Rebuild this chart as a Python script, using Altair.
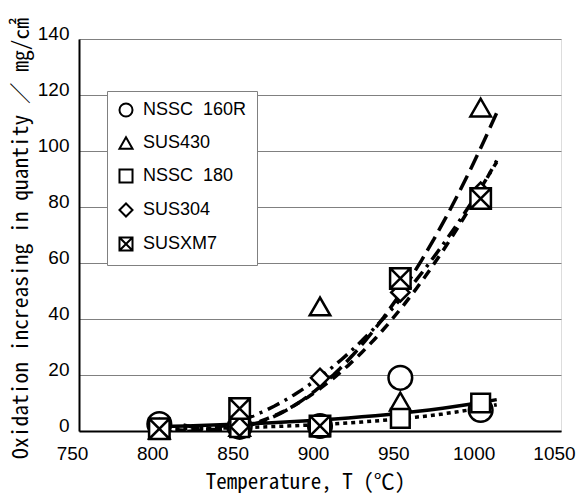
import altair as alt
import pandas as pd

# ---- data ----
temps = [800, 850, 900, 950, 1000]
series_names = ["NSSC 160R", "SUS430", "NSSC 180", "SUS304", "SUSXM7"]
nssc160r = [2.5, 1.5, 1.8, 19.0, 7.5]
sus430 = [0.5, 1.5, 44.5, 10.5, 115.5]
nssc180 = [0.8, 1.2, 1.5, 4.5, 10.0]
sus304 = [1.0, 1.5, 19.0, 49.5, 85.5]
susxm7 = [0.8, 8.0, 1.8, 54.5, 83.0]

values = [nssc160r, sus430, nssc180, sus304, susxm7]
rows = []
for name, vals in zip(series_names, values):
    for t, v in zip(temps, vals):
        rows.append({"series": name, "temp": t, "value": v})
df = pd.DataFrame(rows)

# ---- styling ----
SANS = "Liberation Sans, Arial, sans-serif"
MONO = "Noto Sans Mono CJK JP, Liberation Mono, monospace"
XM7_PATH = "M-1,-1H1V1H-1Z M-1,-1L1,1 M1,-1L-1,1"
shapes = ["circle", "triangle-up", "square", "diamond", XM7_PATH]
sizes = [560, 420, 350, 330, 420]

x_axis = alt.Axis(
    values=[750, 800, 850, 900, 950, 1000, 1050], format="d", grid=False,
    ticks=False, tickSize=0, domainColor="black", domainWidth=2,
    labelFont=SANS, labelFontSize=19, labelColor="black", labelPadding=13,
    labelOffset=-7, labelFlush=False, labelOverlap=False,
    title="Temperature, T (℃)", titleFont=MONO, titleFontSize=21,
    titleFontWeight="normal", titleColor="black", titleX=226, titleY=51,
    titleAlign="center", titleBaseline="middle",
)
y_axis = alt.Axis(
    values=[0, 20, 40, 60, 80, 100, 120, 140], grid=True, gridColor="#808080",
    gridWidth=1, ticks=False, tickSize=0, domainColor="black", domainWidth=2,
    labelFont=SANS, labelFontSize=19, labelColor="black", labelPadding=10,
    labelOffset=-6, labelFlush=False, labelOverlap=False,
    title="Oxidation increasing in quantity ／ ㎎/㎠", titleFont=MONO,
    titleFontSize=21.5, titleFontWeight="normal", titleColor="black",
    titleX=-58, titleY=199, titleAngle=270, titleAlign="center",
    titleBaseline="middle",
)
x_scale = alt.Scale(domain=[750, 1050], nice=False, zero=False)
y_scale = alt.Scale(domain=[0, 140], nice=False)

base = alt.Chart(df)

# trend lines: exponential (log-space fit) for the low series,
# 2nd order polynomial for the high ones
line_specs = [
    ("NSSC 160R", "exp", [800, 1010], []),
    ("NSSC 180", "exp", [800, 1010], [4, 4]),
    ("SUS430", "poly", [815, 1010], [16, 7]),
    ("SUS304", "poly", [800, 1010], [13, 6, 3, 6]),
    ("SUSXM7", "poly", [800, 1010], [10, 7]),
]

layers = []
for name, kind, ext, dash in line_specs:
    c = base.transform_filter(alt.datum.series == name)
    if kind == "exp":
        c = (c.transform_calculate(ly="log(datum.value)")
              .transform_regression("temp", "ly", method="poly", order=1, extent=ext)
              .transform_calculate(fit="exp(datum.ly)"))
    else:
        c = (c.transform_regression("temp", "value", method="poly", order=2, extent=ext)
              .transform_calculate(fit="datum.value"))
    mk = dict(color="black", strokeWidth=3.5, clip=True, strokeCap="butt")
    if dash:
        mk["strokeDash"] = dash
    layers.append(
        c.mark_line(**mk).encode(
            x=alt.X("temp:Q", scale=x_scale, axis=x_axis),
            y=alt.Y("fit:Q", scale=y_scale, axis=y_axis),
        )
    )

# legend carrier: small open markers hidden beneath the real (white-filled) ones
legend_layer = base.mark_point(
    filled=False, color="black", strokeWidth=2, opacity=1, size=60
).encode(
    x=alt.X("temp:Q", scale=x_scale, axis=x_axis),
    y=alt.Y("value:Q", scale=y_scale, axis=y_axis),
    shape=alt.Shape(
        "series:N",
        scale=alt.Scale(domain=series_names, range=shapes),
        legend=alt.Legend(
            title=None, orient="none", legendX=28, legendY=52,
            fillColor="white", strokeColor="#808080", padding=10,
            rowPadding=12, symbolSize=170, symbolStrokeWidth=2,
            symbolStrokeColor="black", symbolOpacity=1,
            labelFont=SANS, labelFontSize=18, labelColor="black",
            labelOffset=8,
            labelExpr="replace(datum.label, ' ', '\u00a0\u00a0')",
        ),
    ),
)
layers.append(legend_layer)

# real markers, one layer per series (later series drawn on top)
for name, shp, sz in zip(series_names, shapes, sizes):
    layers.append(
        base.transform_filter(alt.datum.series == name).mark_point(
            shape=shp, size=sz, fill="white", stroke="black", strokeWidth=2.5,
            opacity=1, fillOpacity=1,
        ).encode(
            x=alt.X("temp:Q", scale=x_scale, axis=x_axis),
            y=alt.Y("value:Q", scale=y_scale, axis=y_axis),
        )
    )

chart = alt.layer(*layers).properties(
    width=482, height=392,
    autosize=alt.AutoSizeParams(type="none"),
    padding={"left": 79, "top": 39, "right": 15, "bottom": 62},
).configure_view(stroke="black", strokeWidth=2).configure(background="white")

chart.save("out.html", embed_options={"renderer": "svg", "actions": False})
